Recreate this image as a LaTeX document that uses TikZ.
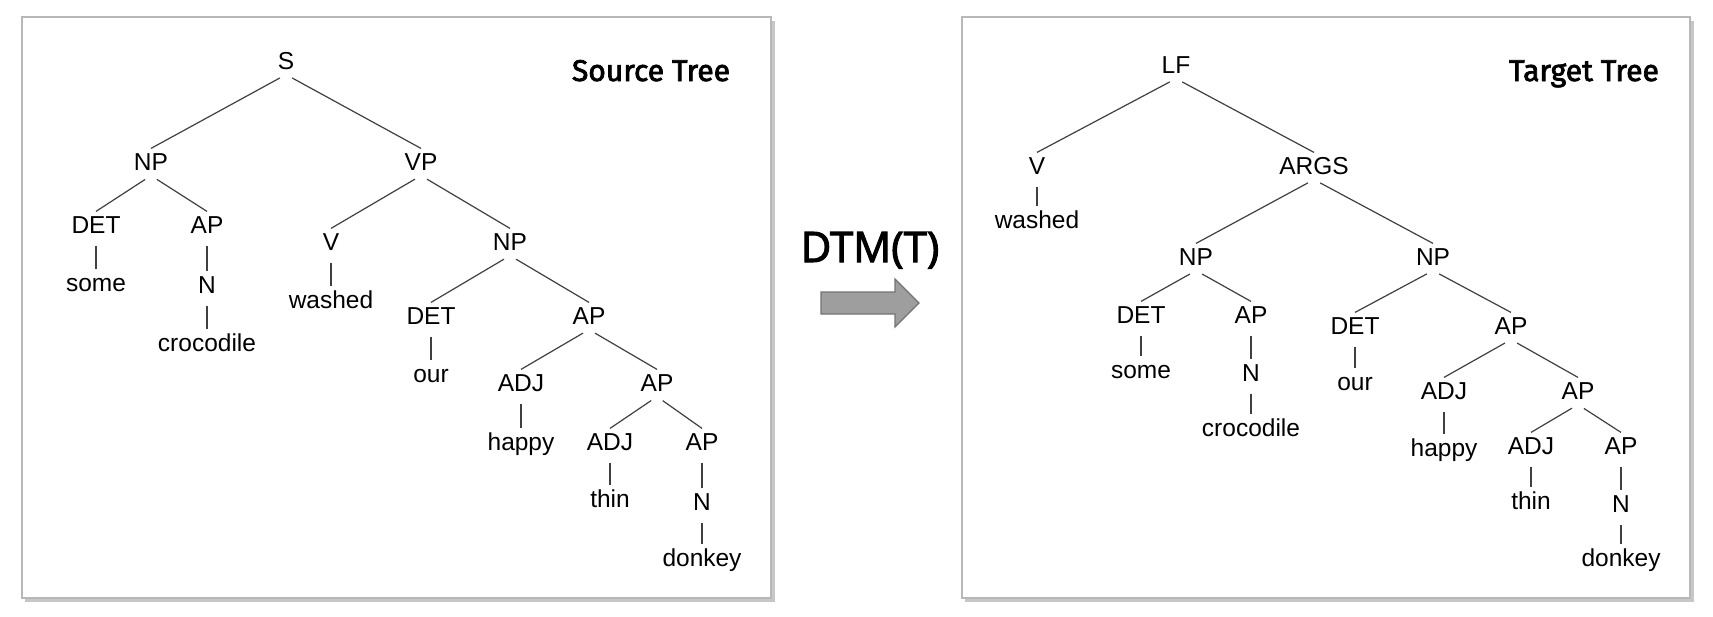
\documentclass[tikz,border=0pt]{standalone}
\usepackage{fontspec}
\usetikzlibrary{positioning}

\newfontfamily\treefont{Liberation Sans}
\newfontfamily\titlefamily{Fira Sans}[FakeBold=2.5]
\newfontfamily\opfamily{Open Sans}[FakeBold=2.5]
\newcommand\labfont{\treefont\fontsize{12.25pt}{14pt}\selectfont}

\begin{document}
\begin{tikzpicture}[x=0.5pt, y=-0.5pt, line width=0.6pt,
  lab/.style = {font=\labfont, inner xsep=0pt, inner ysep=2.2pt, text height=8.6pt, text depth=0pt},
  branch/.style = {draw=black!75, shorten <=3.5pt},
  panel/.style = {draw=black!28, line width=0.8pt, fill=white},
  shade/.style = {fill=black!22, draw=none},
  title/.style = {font=\titlefamily\fontsize{15pt}{18pt}\selectfont, inner sep=0pt, anchor=base}]
  \useasboundingbox (0,0) rectangle (1713,616);

  % Panels
  \fill[shade] (25,21) rectangle (775,602);
  \draw[panel] (22,17) rectangle (771,598);
  \fill[shade] (965,21) rectangle (1694,602);
  \draw[panel] (962,17) rectangle (1690,598);

  \node[title] (src_title) at (651,81) {Source Tree};
  \node[title] (tgt_title) at (1584,81) {Target Tree};

  % Source tree nodes
  \node[lab] (src_s) at (286,61) {S};
  \node[lab] (src_np) at (151,162) {NP};
  \node[lab] (src_vp) at (421,162) {VP};
  \node[lab] (src_det) at (96,225) {DET};
  \node[lab] (src_ap) at (207,225) {AP};
  \node[lab] (src_some) at (96,283) {some};
  \node[lab] (src_n) at (207,285) {N};
  \node[lab] (src_croc) at (207,343) {crocodile};
  \node[lab] (src_v) at (331,242) {V};
  \node[lab] (src_np2) at (510,242) {NP};
  \node[lab] (src_washed) at (331,300) {washed};
  \node[lab] (src_det2) at (431,316) {DET};
  \node[lab] (src_ap2) at (589,316) {AP};
  \node[lab] (src_our) at (431,374) {our};
  \node[lab] (src_adj) at (521,383) {ADJ};
  \node[lab] (src_ap3) at (657,383) {AP};
  \node[lab] (src_happy) at (521,442) {happy};
  \node[lab] (src_adj2) at (610,442) {ADJ};
  \node[lab] (src_ap4) at (702,442) {AP};
  \node[lab] (src_thin) at (610,499) {thin};
  \node[lab] (src_n2) at (702,502) {N};
  \node[lab] (src_donkey) at (702,558) {donkey};

  % Target tree nodes
  \node[lab] (tgt_lf) at (1176,65) {LF};
  \node[lab] (tgt_v) at (1037,166) {V};
  \node[lab] (tgt_args) at (1314,166) {ARGS};
  \node[lab] (tgt_washed) at (1037,220) {washed};
  \node[lab] (tgt_np) at (1196,257) {NP};
  \node[lab] (tgt_np2) at (1433,257) {NP};
  \node[lab] (tgt_det) at (1141,315) {DET};
  \node[lab] (tgt_ap) at (1251,315) {AP};
  \node[lab] (tgt_some) at (1141,370) {some};
  \node[lab] (tgt_n) at (1251,373) {N};
  \node[lab] (tgt_croc) at (1251,428) {crocodile};
  \node[lab] (tgt_det2) at (1355,326) {DET};
  \node[lab] (tgt_ap2) at (1511,326) {AP};
  \node[lab] (tgt_our) at (1355,382) {our};
  \node[lab] (tgt_adj) at (1444,391) {ADJ};
  \node[lab] (tgt_ap3) at (1578,391) {AP};
  \node[lab] (tgt_happy) at (1444,448) {happy};
  \node[lab] (tgt_adj2) at (1531,446) {ADJ};
  \node[lab] (tgt_ap4) at (1621,446) {AP};
  \node[lab] (tgt_thin) at (1531,501) {thin};
  \node[lab] (tgt_n2) at (1621,504) {N};
  \node[lab] (tgt_donkey) at (1621,558) {donkey};

  % Transformation
  \node[font=\opfamily\fontsize{21pt}{24pt}\selectfont, inner sep=0pt, anchor=base] (dtm) at (870,262) {DTM(T)};
  \fill[black!38, draw=black!55] (821,292) -- (895,292) -- (895,279) -- (919,303) -- (895,327) -- (895,314) -- (821,314) -- cycle;

  % Paths
  \path[branch]
        (src_s.south) edge (src_np.north)
        (src_s.south) edge (src_vp.north)
        (src_np.south) edge (src_det.north)
        (src_np.south) edge (src_ap.north)
        (src_det.south) edge (src_some.north)
        (src_ap.south) edge (src_n.north)
        (src_n.south) edge (src_croc.north)
        (src_vp.south) edge (src_v.north)
        (src_vp.south) edge (src_np2.north)
        (src_v.south) edge (src_washed.north)
        (src_np2.south) edge (src_det2.north)
        (src_np2.south) edge (src_ap2.north)
        (src_det2.south) edge (src_our.north)
        (src_ap2.south) edge (src_adj.north)
        (src_ap2.south) edge (src_ap3.north)
        (src_adj.south) edge (src_happy.north)
        (src_ap3.south) edge (src_adj2.north)
        (src_ap3.south) edge (src_ap4.north)
        (src_adj2.south) edge (src_thin.north)
        (src_ap4.south) edge (src_n2.north)
        (src_n2.south) edge (src_donkey.north);

  \path[branch]
        (tgt_lf.south) edge (tgt_v.north)
        (tgt_lf.south) edge (tgt_args.north)
        (tgt_v.south) edge (tgt_washed.north)
        (tgt_args.south) edge (tgt_np.north)
        (tgt_args.south) edge (tgt_np2.north)
        (tgt_np.south) edge (tgt_det.north)
        (tgt_np.south) edge (tgt_ap.north)
        (tgt_det.south) edge (tgt_some.north)
        (tgt_ap.south) edge (tgt_n.north)
        (tgt_n.south) edge (tgt_croc.north)
        (tgt_np2.south) edge (tgt_det2.north)
        (tgt_np2.south) edge (tgt_ap2.north)
        (tgt_det2.south) edge (tgt_our.north)
        (tgt_ap2.south) edge (tgt_adj.north)
        (tgt_ap2.south) edge (tgt_ap3.north)
        (tgt_adj.south) edge (tgt_happy.north)
        (tgt_ap3.south) edge (tgt_adj2.north)
        (tgt_ap3.south) edge (tgt_ap4.north)
        (tgt_adj2.south) edge (tgt_thin.north)
        (tgt_ap4.south) edge (tgt_n2.north)
        (tgt_n2.south) edge (tgt_donkey.north);
\end{tikzpicture}
\end{document}
